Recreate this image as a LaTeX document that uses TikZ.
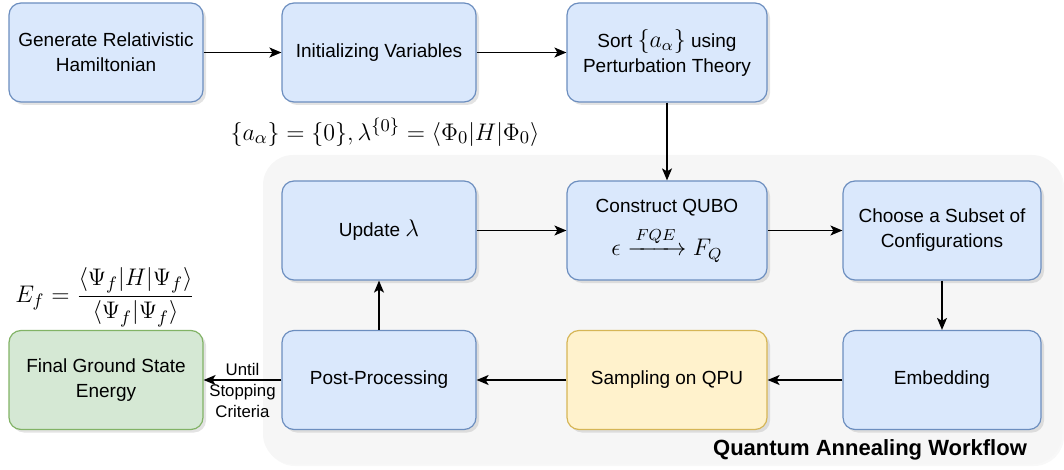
\documentclass[tikz,border=0pt]{standalone}
\usepackage{amsmath}
\usepackage{amssymb}
\usepackage[no-math]{fontspec}
\setmainfont{Liberation Sans}
\usepackage{tikz}
\usetikzlibrary{arrows.meta}
\usetikzlibrary{shadows}

\definecolor{fillblue}{HTML}{DAE8FC}
\definecolor{lineblue}{HTML}{6C8EBF}
\definecolor{fillgreen}{HTML}{D5E8D4}
\definecolor{linegreen}{HTML}{82B366}
\definecolor{fillyellow}{HTML}{FFF2CC}
\definecolor{lineyellow}{HTML}{D6B656}
\definecolor{panelgray}{HTML}{F6F6F6}

\newcommand{\bigmath}[1]{{\fontsize{12}{12.5}\selectfont$#1$}}

\tikzset{
	procbox/.style={draw=lineblue, fill=fillblue, line width=0.6pt, rounded corners=6pt,
		minimum width=97pt, minimum height=49.5pt, align=center,
		font=\fontsize{9.5}{12.5}\selectfont,
		drop shadow={opacity=0.22, shadow xshift=1.5pt, shadow yshift=-1.5pt}},
	endbox/.style={procbox, draw=linegreen, fill=fillgreen},
	qpubox/.style={procbox, draw=lineyellow, fill=fillyellow},
	flow/.style={->, line width=0.7pt},
}

\begin{document}
\begin{tikzpicture}[x=0.5pt, y=-0.5pt, >={Stealth[length=6pt,width=5pt,inset=1.5pt]}]
	%\draw[style=help lines,gray!50] (0,0) grid[step=50] (1064,470);
	\useasboundingbox (0,0) rectangle (1064,470);

	\fill[panelgray, rounded corners=15pt, drop shadow={opacity=0.06, shadow xshift=1pt, shadow yshift=-1pt}] (263,155) rectangle (1062,464);

	\node[procbox] at (106,52.5) (gen) {Generate Relativistic\\Hamiltonian};
	\node[procbox] at (379,52.5) (init) {Initializing Variables};
	\node[procbox, minimum width=100pt] at (667,52.5) (sort) {Sort \bigmath{\{a_\alpha\}} using\\Perturbation Theory};

	\node[procbox] at (379,230.5) (update) {Update \bigmath{\lambda}};
	\node[procbox, minimum width=100pt] at (667,230.5) (qubo) {Construct QUBO\\[5pt]\bigmath{\epsilon \xrightarrow{\,FQE\,} F_Q}};
	\node[procbox, minimum width=99pt] at (942,230.5) (subset) {Choose a Subset of\\Configurations};

	\node[endbox] at (106,380) (final) {Final Ground State\\Energy};
	\node[procbox] at (379,380) (post) {Post-Processing};
	\node[qpubox, minimum width=100pt] at (667,380) (qpu) {Sampling on QPU};
	\node[procbox, minimum width=99pt] at (942,380) (embed) {Embedding};

	\draw[flow] (gen) -- (init);
	\draw[flow] (init) -- (sort);
	\draw[flow] (sort) -- (qubo);
	\draw[flow] (update) -- (qubo);
	\draw[flow] (qubo) -- (subset);
	\draw[flow] (subset) -- (embed);
	\draw[flow] (embed) -- (qpu);
	\draw[flow] (qpu) -- (post);
	\draw[flow] (post) -- (update);
	\draw[flow] (post) -- node[yshift=-5pt, align=center, font=\fontsize{8.4}{10.5}\selectfont] {Until\\Stopping\\Criteria} (final);

	\node[font=\fontsize{12.5}{15}\selectfont] at (385,132) (init0) {$\{a_\alpha\}=\{0\},\lambda^{\{0\}}=\langle\Phi_0|H|\Phi_0\rangle$};
	\node[font=\fontsize{12.5}{15}\selectfont] at (105,297) (energy) {$E_f=\dfrac{\langle\Psi_f|H|\Psi_f\rangle}{\langle\Psi_f|\Psi_f\rangle}$};

	\node[font=\fontsize{11}{13}\selectfont\bfseries] at (870,450) (qaw) {Quantum Annealing Workflow};
\end{tikzpicture}
\end{document}
